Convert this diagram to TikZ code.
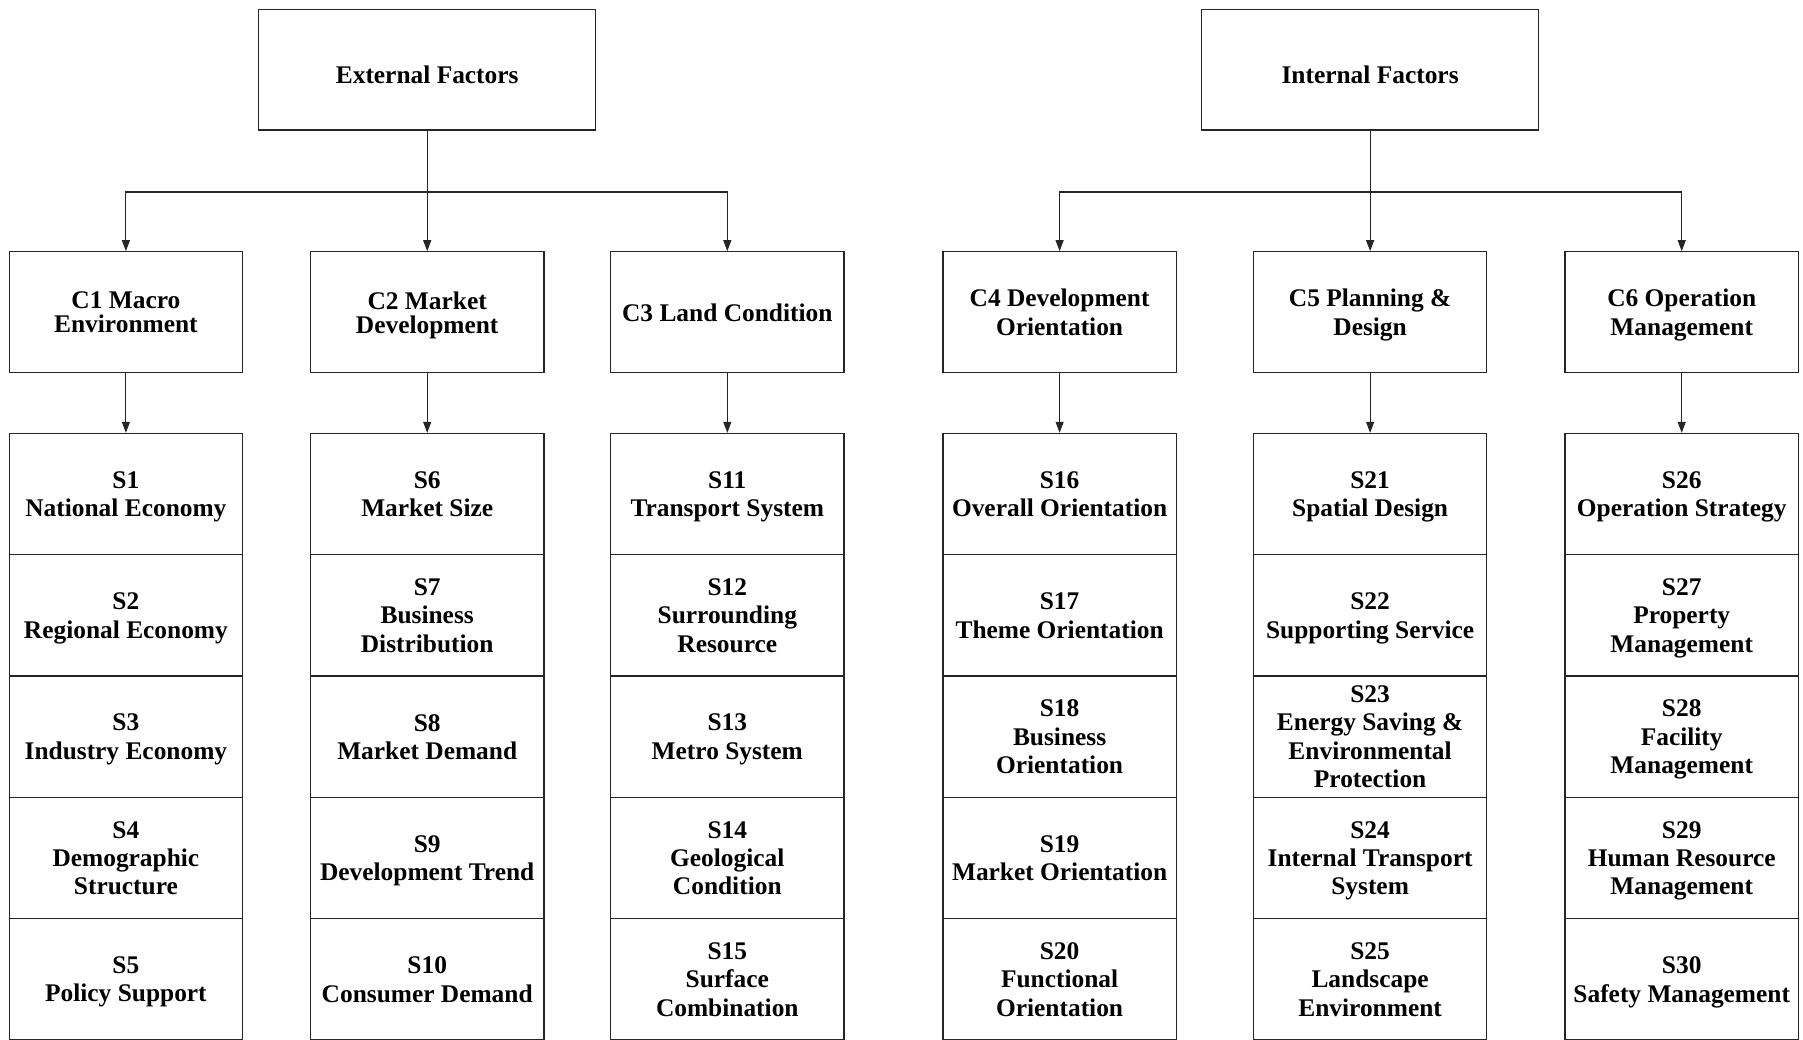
\documentclass[tikz,border=0pt]{standalone}
\usepackage{fontspec}
\setmainfont{Liberation Serif}
\usetikzlibrary{arrows.meta}

\begin{document}
\begin{tikzpicture}[x=1pt,y=-1pt,
  lbl/.style={font=\fontsize{25.4pt}{28.4pt}\selectfont\bfseries, align=center, inner sep=0pt, text depth=0pt},
  box/.style={lbl, draw=black!85, line width=1.3pt},
  topbox/.style={box, minimum width=336.9pt, minimum height=120.7pt, text height=0pt},
  catbox/.style={box, minimum width=233.4pt, minimum height=120.8pt},
  tightcat/.style={catbox, font=\fontsize{25.4pt}{24pt}\selectfont\bfseries},
  subbox/.style={box, minimum width=233.4pt, minimum height=121.3pt},
  conn/.style={draw=black!85, line width=1.1pt},
  arr/.style={conn, -{Triangle[length=11pt,width=8pt]}}
]
\useasboundingbox (0,0) rectangle (1803,1040);
\begin{scope}
\clip (-5,-5) rectangle (1808,1039.2);

% top level
\node[topbox] (ext) at (427.2,69.6) {\raisebox{-13.6pt}{External Factors}};
\node[topbox] (int) at (1370.1,69.6) {\raisebox{-13.6pt}{Internal Factors}};
\coordinate (extbus) at (427.2,192);
\coordinate (intbus) at (1370.1,192);

% criteria
\node[tightcat] (c1) at (125.9,312.2)  {C1 Macro\\Environment};
\node[tightcat] (c2) at (427.2,312.2)  {C2 Market\\Development};
\node[catbox] (c3) at (727.3,312.2)  {C3 Land Condition};
\node[catbox] (c4) at (1059.6,312.2) {C4 Development\\Orientation};
\node[catbox] (c5) at (1370.1,312.2) {C5 Planning \&\\Design};
\node[catbox] (c6) at (1681.7,312.2) {C6 Operation\\Management};

% sub-criteria columns
\node[subbox] (s1) at (125.9,494.15) {S1\\National Economy};
\node[subbox] (s2) at (125.9,615.45) {S2\\Regional Economy};
\node[subbox] (s3) at (125.9,736.75) {S3\\Industry Economy};
\node[subbox] (s4) at (125.9,858.05) {S4\\Demographic\\Structure};
\node[subbox] (s5) at (125.9,979.35) {S5\\Policy Support};

\node[subbox] (s6) at (427.2,494.15) {S6\\Market Size};
\node[subbox] (s7) at (427.2,615.45) {S7\\Business\\Distribution};
\node[subbox] (s8) at (427.2,736.75) {S8\\Market Demand};
\node[subbox] (s9) at (427.2,858.05) {S9\\Development Trend};
\node[subbox] (s10) at (427.2,979.35) {S10\\Consumer Demand};

\node[subbox] (s11) at (727.3,494.15) {S11\\Transport System};
\node[subbox] (s12) at (727.3,615.45) {S12\\Surrounding\\Resource};
\node[subbox] (s13) at (727.3,736.75) {S13\\Metro System};
\node[subbox] (s14) at (727.3,858.05) {S14\\Geological\\Condition};
\node[subbox] (s15) at (727.3,979.35) {S15\\Surface\\Combination};

\node[subbox] (s16) at (1059.6,494.15) {S16\\Overall Orientation};
\node[subbox] (s17) at (1059.6,615.45) {S17\\Theme Orientation};
\node[subbox] (s18) at (1059.6,736.75) {S18\\Business\\Orientation};
\node[subbox] (s19) at (1059.6,858.05) {S19\\Market Orientation};
\node[subbox] (s20) at (1059.6,979.35) {S20\\Functional\\Orientation};

\node[subbox] (s21) at (1370.1,494.15) {S21\\Spatial Design};
\node[subbox] (s22) at (1370.1,615.45) {S22\\Supporting Service};
\node[subbox] (s23) at (1370.1,736.75) {S23\\Energy Saving \&\\Environmental\\Protection};
\node[subbox] (s24) at (1370.1,858.05) {S24\\Internal Transport\\System};
\node[subbox] (s25) at (1370.1,979.35) {S25\\Landscape\\Environment};

\node[subbox] (s26) at (1681.7,494.15) {S26\\Operation Strategy};
\node[subbox] (s27) at (1681.7,615.45) {S27\\Property\\Management};
\node[subbox] (s28) at (1681.7,736.75) {S28\\Facility\\Management};
\node[subbox] (s29) at (1681.7,858.05) {S29\\Human Resource\\Management};
\node[subbox] (s30) at (1681.7,979.35) {S30\\Safety Management};

% connectors: factors to criteria
\draw[conn] (ext.south) -- (extbus);
\draw[arr] (extbus) -| (c1.north);
\draw[arr] (extbus) -- (c2.north);
\draw[arr] (extbus) -| (c3.north);

\draw[conn] (int.south) -- (intbus);
\draw[arr] (intbus) -| (c4.north);
\draw[arr] (intbus) -- (c5.north);
\draw[arr] (intbus) -| (c6.north);

% connectors: criteria to sub-criteria
\foreach \c/\s in {c1/s1, c2/s6, c3/s11, c4/s16, c5/s21, c6/s26}
  \draw[arr] (\c.south) -- (\s.north);
\end{scope}
\end{tikzpicture}
\end{document}
